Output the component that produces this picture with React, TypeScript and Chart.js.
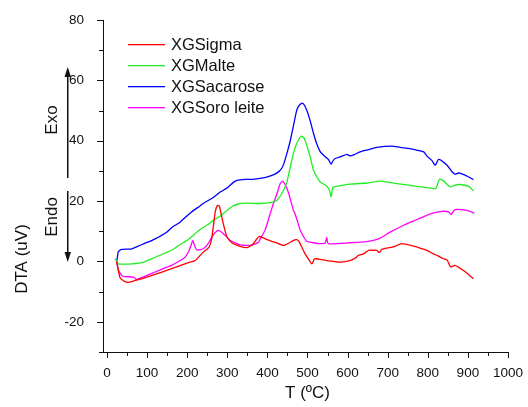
import React, { useEffect, useRef } from "react";
import { Chart, registerables } from "chart.js";

Chart.register(...registerables);

// ---------- data ----------
const seriesNames = ["XGSigma", "XGMalte", "XGSacarose", "XGSoro leite"];
const seriesColors = ["#ff0000", "#22ee22", "#0000ff", "#ff00ff"];

const sigmaT = [24, 28, 32, 40, 50, 60, 70, 90, 120, 161, 203, 220, 240, 253, 257, 261, 265, 270, 275, 280, 285, 290, 299, 307, 315, 332, 349, 365, 372, 380, 390, 399, 420, 440, 455, 465, 473, 479, 486, 494, 502, 511, 517, 523, 535, 548, 565, 581, 606, 620, 627, 640, 652, 665, 673, 679, 685, 690, 714, 735, 764, 773, 798, 814, 823, 839, 848, 856, 860, 868, 889, 914];
const sigmaV = [0, -2.5, -5.2, -6.3, -6.9, -6.8, -6.3, -5.6, -4.3, -2.4, -0.4, 0.3, 3.1, 4.5, 5.5, 7.5, 11.4, 16.5, 18.5, 18.4, 15.5, 12.5, 8.1, 6.8, 5.9, 5.0, 4.6, 5.9, 7.2, 8.3, 7.8, 7.2, 6.3, 5.3, 6.2, 7.0, 7.2, 6.6, 4.7, 2.5, 0.9, -0.8, 0.8, 0.9, 0.6, 0.3, 0.0, -0.2, 0.3, 1.2, 2.0, 2.5, 3.7, 3.7, 3.7, 2.9, 4.0, 4.2, 4.8, 5.9, 5.1, 4.8, 3.7, 2.5, 2.0, 0.9, 0.5, -1.7, -1.7, -1.3, -3.0, -5.7];

const malteT = [20, 24, 28, 40, 62, 90, 120, 161, 182, 203, 232, 253, 265, 282, 299, 315, 332, 350, 382, 410, 424, 436, 448, 457, 465, 473, 484, 492, 498, 507, 515, 524, 532, 548, 555, 559, 563, 570, 606, 648, 681, 723, 773, 819, 823, 829, 839, 848, 856, 866, 877, 902, 914];
const malteV = [0.9, 0.2, -0.8, -0.9, -0.8, -0.3, 1.4, 3.7, 5.6, 7.3, 10.6, 12.3, 13.6, 15.0, 16.9, 18.4, 19.2, 19.3, 19.2, 19.6, 20.3, 22.5, 26.0, 31.3, 35.8, 39.1, 41.5, 40.8, 38.5, 34.5, 30.2, 27.8, 26.3, 25.0, 23.5, 21.4, 24.5, 24.8, 25.6, 26.0, 26.6, 25.8, 24.9, 24.1, 25.0, 27.2, 26.7, 25.6, 24.7, 25.2, 25.5, 24.9, 23.4];

const sacaroseT = [24, 26, 28, 33, 37, 50, 62, 78, 100, 120, 149, 161, 182, 190, 210, 232, 240, 265, 282, 299, 315, 324, 345, 365, 382, 400, 420, 432, 440, 448, 457, 465, 472, 477, 485, 490, 498, 507, 515, 523, 532, 540, 552, 559, 563, 569, 585, 598, 606, 615, 631, 650, 673, 710, 731, 756, 765, 790, 798, 810, 819, 827, 848, 860, 868, 877, 893, 914];
const sacaroseV = [0, 1.5, 3.1, 3.8, 4.0, 4.1, 4.2, 5.1, 6.3, 7.5, 9.7, 11.2, 13.0, 14.0, 16.3, 18.4, 19.2, 21.2, 23.0, 24.3, 26.2, 26.9, 27.2, 27.2, 27.5, 28.0, 29.0, 30.2, 32.0, 35.5, 40.0, 45.0, 49.5, 51.3, 52.4, 52.2, 50.2, 46.5, 42.4, 39.0, 36.3, 35.2, 33.8, 32.2, 33.2, 34.1, 34.8, 35.5, 35.0, 35.3, 36.3, 37.0, 37.8, 38.2, 37.8, 37.4, 37.1, 36.3, 34.9, 33.5, 31.9, 33.8, 31.9, 29.8, 28.9, 29.3, 28.6, 27.1];

const soroT = [24, 28, 31, 37, 45, 66, 74, 78, 107, 120, 149, 161, 190, 195, 205, 210, 214, 219, 224, 240, 249, 257, 265, 274, 278, 286, 299, 307, 324, 332, 357, 365, 378, 382, 394, 407, 415, 424, 432, 437, 443, 452, 465, 469, 482, 486, 498, 515, 532, 544, 548, 552, 606, 648, 677, 706, 740, 773, 806, 835, 852, 858, 868, 898, 916];
const soroV = [-0.2, -3.0, -3.5, -4.7, -5.0, -5.2, -6.0, -5.8, -4.2, -3.5, -1.9, -1.3, 0.9, 1.4, 3.7, 5.5, 6.9, 5.0, 3.8, 4.2, 5.3, 7.0, 8.8, 10.1, 10.3, 9.7, 8.1, 7.0, 5.9, 5.5, 5.3, 5.6, 6.4, 7.5, 10.3, 15.8, 19.2, 22.5, 25.8, 26.5, 25.8, 23.0, 16.9, 15.8, 10.3, 9.2, 6.7, 6.2, 5.9, 6.1, 8.0, 5.9, 6.2, 6.6, 7.5, 9.7, 12.0, 13.9, 15.8, 16.6, 16.4, 15.6, 17.2, 16.9, 16.0];

const xTicks = [0, 100, 200, 300, 400, 500, 600, 700, 800, 900, 1000];
const yTicks = [-20, 0, 20, 40, 60, 80];
const xMin = -10;
const xMax = 1000;
const yMin = -30;
const yMax = 80;
const xTitle = "T (ºC)";
const yTitle = "DTA (uV)";
const exoLabel = "Exo";
const endoLabel = "Endo";

const FONT = "'Liberation Sans', Arial, sans-serif";
const INK = "#111111";

function pts(t: number[], v: number[]) {
  return t.map((x, i) => ({ x, y: v[i] }));
}

const decorPlugin = {
  id: "decor",
  afterDraw(chart: any) {
    const ctx = chart.ctx as CanvasRenderingContext2D;
    const xs = chart.scales.x;
    const ys = chart.scales.y;
    const area = chart.chartArea;
    const L = Math.round(area.left);
    const B = Math.round(area.bottom);
    const T = Math.round(area.top);
    const R = Math.round(area.right);
    ctx.save();
    ctx.fillStyle = INK;
    // axis lines
    ctx.fillRect(L, T, 1, B - T + 1);
    ctx.fillRect(L - 3, B, R - L + 4, 1);
    // x ticks (major every 100, minor every 50)
    for (let v = 0; v <= xMax; v += 50) {
      const px = Math.round(xs.getPixelForValue(v));
      const len = v % 100 === 0 ? 5 : 3;
      ctx.fillRect(px, B, 1, len + 1);
    }
    // y ticks (major every 20, minor every 10)
    for (let v = yMin; v <= yMax; v += 10) {
      const py = Math.round(ys.getPixelForValue(v));
      const len = v % 20 === 0 ? 6 : 4;
      ctx.fillRect(L - len, py, len + 1, 1);
    }

    // x title
    ctx.font = `17px ${FONT}`;
    ctx.textAlign = "center";
    ctx.textBaseline = "middle";
    ctx.fillText(xTitle, xs.getPixelForValue(500), 393);
    const rot = (text: string, x: number, y: number) => {
      ctx.save();
      ctx.translate(x, y);
      ctx.rotate(-Math.PI / 2);
      ctx.fillText(text, 0, 0);
      ctx.restore();
    };
    rot(yTitle, 22, 259);
    rot(exoLabel, 52, 120);
    rot(endoLabel, 52, 217);

    // arrows
    ctx.fillRect(67, 75, 1.5, 103);
    ctx.fillRect(67, 191, 1.5, 63);
    ctx.beginPath();
    ctx.moveTo(67.75, 67);
    ctx.lineTo(64.5, 77);
    ctx.lineTo(71, 77);
    ctx.closePath();
    ctx.fill();
    ctx.beginPath();
    ctx.moveTo(67.75, 262);
    ctx.lineTo(64.5, 252);
    ctx.lineTo(71, 252);
    ctx.closePath();
    ctx.fill();

    // legend
    ctx.font = `16.5px ${FONT}`;
    ctx.textAlign = "left";
    ctx.textBaseline = "middle";
    const rowY = [44, 65, 86, 107];
    seriesNames.forEach((name, i) => {
      ctx.fillStyle = seriesColors[i];
      ctx.fillRect(128, rowY[i], 37, 1.3);
      ctx.fillStyle = INK;
      ctx.fillText(name, 171, rowY[i] + 1);
    });
    ctx.restore();
  },
};

export default function App() {
  const ref = useRef<HTMLCanvasElement | null>(null);
  useEffect(() => {
    document.body.style.margin = "0";
    const canvas = ref.current;
    if (!canvas) return;
    const data = [pts(sigmaT, sigmaV), pts(malteT, malteV), pts(sacaroseT, sacaroseV), pts(soroT, soroV)];
    const chart = new Chart(canvas, {
      type: "line",
      data: {
        datasets: data.map((d, i) => ({
          label: seriesNames[i],
          data: d,
          borderColor: seriesColors[i],
          backgroundColor: seriesColors[i],
          borderWidth: 1.3,
          pointRadius: 0,
          tension: 0.2,
          fill: false,
        })),
      },
      options: {
        responsive: false,
        animation: false,
        layout: { padding: { top: 20, right: 20, left: 0, bottom: 0 } },
        plugins: { legend: { display: false }, tooltip: { enabled: false }, title: { display: false } },
        scales: {
          x: {
            type: "linear",
            min: xMin,
            max: xMax,
            grid: { display: false },
            border: { display: false },
            afterBuildTicks: (s: any) => {
              s.ticks = xTicks.map((value) => ({ value }));
            },
            afterFit: (s: any) => {
              s.height = 55;
            },
            ticks: {
              padding: 5,
              maxRotation: 0,
              autoSkip: false,
              color: INK,
              font: { family: FONT, size: 13.5 },
              callback: (v: any) => String(v),
            },
          },
          y: {
            type: "linear",
            min: yMin,
            max: yMax,
            grid: { display: false },
            border: { display: false },
            afterBuildTicks: (s: any) => {
              s.ticks = yTicks.map((value) => ({ value }));
            },
            afterFit: (s: any) => {
              s.width = 103;
            },
            ticks: {
              padding: 11,
              autoSkip: false,
              color: INK,
              font: { family: FONT, size: 13.5 },
              callback: (v: any) => String(v),
            },
          },
        },
      },
      plugins: [decorPlugin],
    } as any);
    return () => chart.destroy();
  }, []);
  return <canvas ref={ref} width={528} height={407} style={{ display: "block" }} />;
}
